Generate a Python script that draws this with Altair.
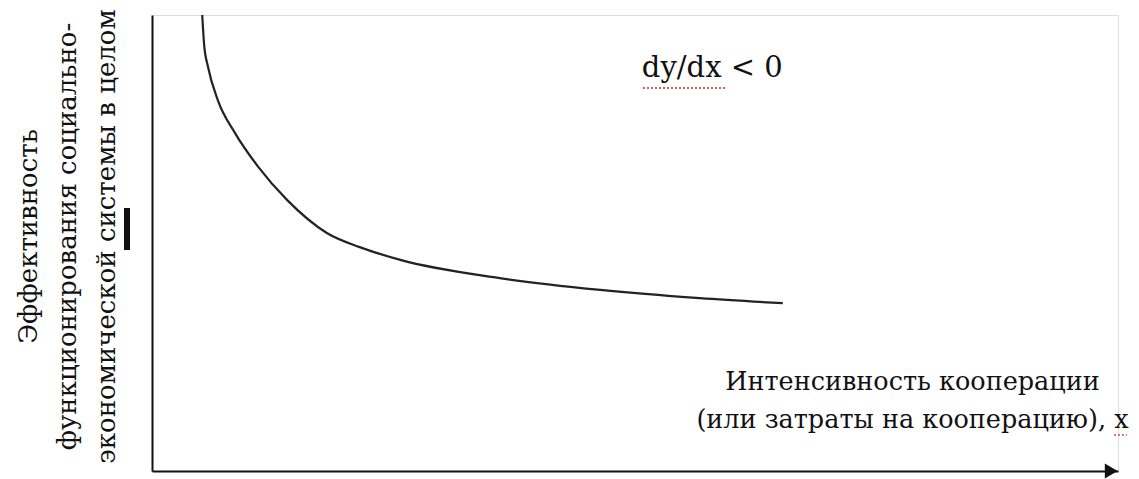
import altair as alt
import pandas as pd

# Curve (abstract units: x 0..10, y 0..10)
curve_x = [0.52, 0.54, 0.58, 0.68, 0.86, 1.10, 1.40, 1.81, 2.15, 2.57, 3.60, 4.64, 5.67, 6.53]
curve_y = [10.0, 9.34, 8.86, 8.14, 7.41, 6.67, 5.94, 5.22, 4.91, 4.63, 4.23, 3.97, 3.79, 3.68]

y_title = ["Эффективность", "функционирования социально-", "экономической системы в целом"]
x_title = ["Интенсивность кооперации", "(или затраты на кооперацию), x"]
note_text = ["dy/dx < 0"]
note_x = [5.80]
note_y = [8.64]
arrow_x = [9.93]
arrow_y = [0.0]

FONT = "DejaVu Serif"
FS = 26

curve = pd.DataFrame({"x": curve_x, "y": curve_y})
notes = pd.DataFrame({"x": note_x, "y": note_y, "t": note_text})
arrow = pd.DataFrame({"x": arrow_x, "y": arrow_y})

xscale = alt.Scale(domain=[0, 10], nice=False, zero=False)
yscale = alt.Scale(domain=[0, 10], nice=False, zero=False)

xaxis = alt.Axis(
    title=x_title, labels=False, ticks=False, grid=False,
    domainColor="#111", domainWidth=2,
    titleFont=FONT, titleFontSize=25.5, titleFontWeight="normal", titleColor="#111",
    titleAngle=0, titleAlign="center", titleBaseline="alphabetic",
    titleX=760, titleY=-82, titleLineHeight=38,
)
yaxis = alt.Axis(
    title=y_title, labels=False, ticks=False, grid=False,
    domainColor="#111", domainWidth=2,
    titleFont=FONT, titleFontSize=FS, titleFontWeight="normal", titleColor="#111",
    titleAngle=270, titleAlign="center", titleBaseline="alphabetic",
    titleX=-116, titleY=221, titleLineHeight=39,
)

line = alt.Chart(curve).mark_line(color="#222", strokeWidth=2.2, interpolate="monotone").encode(
    x=alt.X("x:Q", scale=xscale, axis=xaxis),
    y=alt.Y("y:Q", scale=yscale, axis=yaxis),
)

note = alt.Chart(notes).mark_text(
    font=FONT, fontSize=29, color="#111", align="center", baseline="alphabetic"
).encode(x=alt.X("x:Q", scale=xscale), y=alt.Y("y:Q", scale=yscale), text="t:N")

head = alt.Chart(arrow).mark_point(
    shape="triangle-right", filled=True, color="#111", size=220, opacity=1
).encode(x=alt.X("x:Q", scale=xscale), y=alt.Y("y:Q", scale=yscale))

# small stray bar left of the y-axis title
bar = alt.Chart(curve).mark_rule(color="#111", strokeWidth=5).encode(
    x=alt.value(-25), y=alt.value(193), y2=alt.value(235)
)

# spell-check squiggles
squig1 = alt.Chart(curve).mark_rule(color="#d06060", strokeWidth=1.5, strokeDash=[2, 2], opacity=0.8).encode(
    x=alt.value(491), x2=alt.value(573), y=alt.value(73)
)
squig2 = alt.Chart(curve).mark_rule(color="#d08060", strokeWidth=1.5, strokeDash=[2, 2], opacity=0.8).encode(
    x=alt.value(962), x2=alt.value(975), y=alt.value(420)
)

chart = alt.layer(line, note, head, bar, squig1, squig2).properties(
    width=966, height=456,
    autosize=alt.AutoSizeParams(type="none"),
    padding={"left": 144, "top": 7, "right": 13, "bottom": 8},
).configure_view(stroke=None).configure(background="white", font=FONT)

chart.save("out.html", embed_options={"renderer": "svg", "actions": False})
